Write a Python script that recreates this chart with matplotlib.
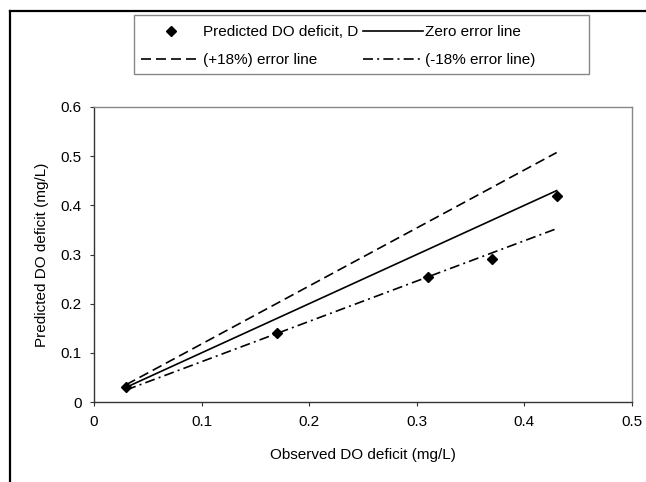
import numpy as np
import matplotlib
matplotlib.use("Agg")
import matplotlib.pyplot as plt
from matplotlib.lines import Line2D
from matplotlib.patches import Rectangle

plt.rcParams['font.family'] = ['Liberation Sans', 'DejaVu Sans']
plt.rcParams['font.size'] = 11

# observed vs predicted DO deficit (mg/L)
observed = [0.03, 0.17, 0.31, 0.37, 0.43]
predicted = [0.03, 0.14, 0.255, 0.29, 0.42]
err = 0.18

x_ticks = [0, 0.1, 0.2, 0.3, 0.4, 0.5]
y_ticks = [0, 0.1, 0.2, 0.3, 0.4, 0.5, 0.6]

obs = np.array(observed)

fig = plt.figure(figsize=(6.46, 4.82), dpi=100)
ax = fig.add_axes([94/646, 1-402/482, (632-94)/646, (402-107)/482])

h_pts, = ax.plot(observed, predicted, linestyle='none', marker='D', markersize=5.5,
                 color='black', label='Predicted DO deficit, D', zorder=5)
h_zero, = ax.plot(obs, obs, color='black', lw=1.2, label='Zero error line')
h_up, = ax.plot(obs, obs*(1+err), color='black', lw=1.2, dashes=(6, 3),
                label='(+18%) error line')
h_dn, = ax.plot(obs, obs*(1-err), color='black', lw=1.2, dashes=(6, 2.5, 1.2, 2.5),
                label='(-18% error line)')

ax.set_xlim(0, 0.5)
ax.set_ylim(0, 0.6)
ax.set_xticks(x_ticks)
ax.set_yticks(y_ticks)
ax.set_xticklabels([f"{v:g}" for v in x_ticks])
ax.set_yticklabels([f"{v:g}" for v in y_ticks])
ax.tick_params(direction='out', length=3, width=0.8, pad=6, color='#333333')

for s in ['left', 'bottom']:
    ax.spines[s].set_color('#333333')
    ax.spines[s].set_linewidth(1.0)
for s in ['top', 'right']:
    ax.spines[s].set_color('#888888')
    ax.spines[s].set_linewidth(1.0)

ax.set_xlabel('Observed DO deficit (mg/L)', labelpad=14)
ax.set_ylabel('Predicted DO deficit (mg/L)', labelpad=8)

# legend box like the Excel one
fig.patches.append(Rectangle((134/646, 1-74/482), 455/646, 59/482,
                             transform=fig.transFigure, fill=False,
                             edgecolor='#888888', lw=1.0))
fig.legend(handles=[h_pts, h_up, h_zero, h_dn], ncol=2, frameon=False,
           loc='upper left', bbox_to_anchor=(134/646, 1-18/482),
           handlelength=3.9, handletextpad=0.15, columnspacing=0.35,
           labelspacing=0.95, borderpad=0.45, borderaxespad=0)

# outer frame
fig.add_artist(Line2D([10/646, 10/646], [0, 1-11/482], transform=fig.transFigure,
                      color='black', lw=1.6))
fig.add_artist(Line2D([10/646, 1], [1-11/482, 1-11/482], transform=fig.transFigure,
                      color='black', lw=1.6))

fig.savefig('out.png', dpi=100)
